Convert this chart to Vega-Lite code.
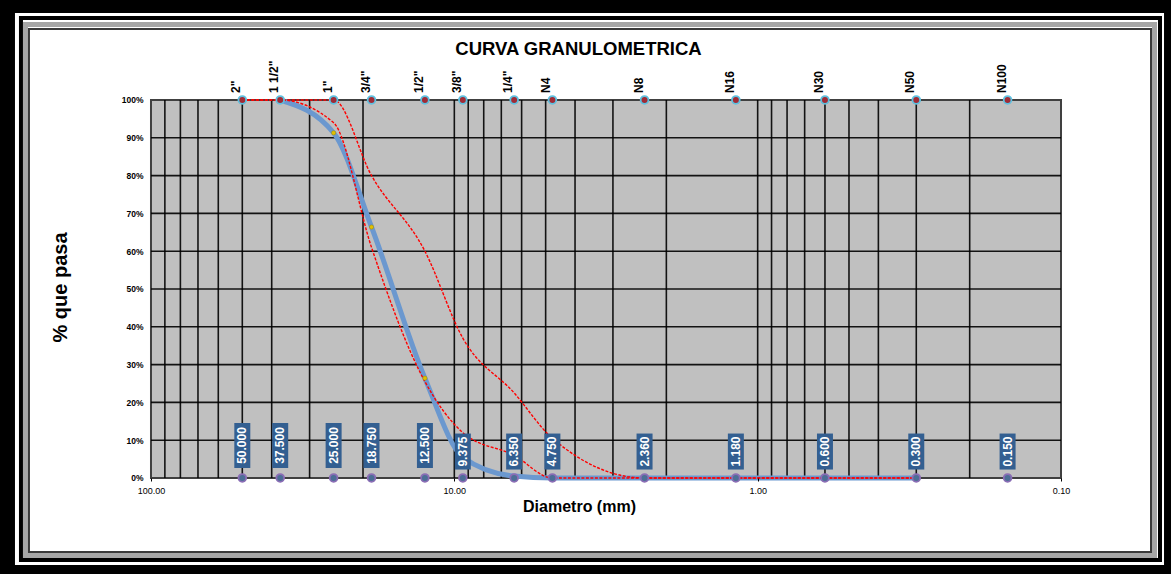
{
  "$schema": "https://vega.github.io/schema/vega-lite/v6.json",
  "width": 1171,
  "height": 574,
  "autosize": {"type": "none"},
  "padding": 0,
  "background": "#000000",
  "config": {"view": {"stroke": null, "fill": null}, "font": "Liberation Sans"},
  "title": {"text": "CURVA GRANULOMETRICA", "frame": "group", "anchor": "middle", "orient": "top", "offset": -73, "dx": -7, "fontSize": 18.5, "fontWeight": "bold", "color": "#000000", "font": "Liberation Sans", "baseline": "alphabetic"},
  "datasets": {
    "tamices": [
      {"t": "2\"", "d": 50, "e": "50.000"},
      {"t": "1 1/2\"", "d": 37.5, "e": "37.500"},
      {"t": "1\"", "d": 25, "e": "25.000"},
      {"t": "3/4\"", "d": 18.75, "e": "18.750"},
      {"t": "1/2\"", "d": 12.5, "e": "12.500"},
      {"t": "3/8\"", "d": 9.375, "e": "9.375"},
      {"t": "1/4\"", "d": 6.35, "e": "6.350"},
      {"t": "N4", "d": 4.75, "e": "4.750"},
      {"t": "N8", "d": 2.36, "e": "2.360"},
      {"t": "N16", "d": 1.18, "e": "1.180"},
      {"t": "N30", "d": 0.6, "e": "0.600"},
      {"t": "N50", "d": 0.3, "e": "0.300"},
      {"t": "N100", "d": 0.15, "e": "0.150"}
    ],
    "curvas": [
      {"serie": "Muestra", "d": 37.5, "p": 100},
      {"serie": "Muestra", "d": 25, "p": 91.3},
      {"serie": "Muestra", "d": 18.75, "p": 66.4},
      {"serie": "Muestra", "d": 12.5, "p": 26.4},
      {"serie": "Muestra", "d": 9.375, "p": 5.5},
      {"serie": "Muestra", "d": 6.35, "p": 0.5},
      {"serie": "Muestra", "d": 4.75, "p": 0},
      {"serie": "Muestra", "d": 2.36, "p": 0},
      {"serie": "Muestra", "d": 1.18, "p": 0},
      {"serie": "Muestra", "d": 0.6, "p": 0},
      {"serie": "Muestra", "d": 0.3, "p": 0},
      {"serie": "Inferior", "d": 50, "p": 100},
      {"serie": "Inferior", "d": 37.5, "p": 100},
      {"serie": "Inferior", "d": 25, "p": 94},
      {"serie": "Inferior", "d": 18.75, "p": 61},
      {"serie": "Inferior", "d": 12.5, "p": 25.5},
      {"serie": "Inferior", "d": 9.375, "p": 12},
      {"serie": "Inferior", "d": 6.35, "p": 6},
      {"serie": "Inferior", "d": 4.75, "p": 0},
      {"serie": "Inferior", "d": 2.36, "p": 0},
      {"serie": "Inferior", "d": 1.18, "p": 0},
      {"serie": "Inferior", "d": 0.6, "p": 0},
      {"serie": "Inferior", "d": 0.3, "p": 0},
      {"serie": "Superior", "d": 50, "p": 100},
      {"serie": "Superior", "d": 37.5, "p": 100},
      {"serie": "Superior", "d": 25, "p": 100},
      {"serie": "Superior", "d": 18.75, "p": 80},
      {"serie": "Superior", "d": 12.5, "p": 60},
      {"serie": "Superior", "d": 9.375, "p": 37},
      {"serie": "Superior", "d": 6.35, "p": 22.5},
      {"serie": "Superior", "d": 4.75, "p": 10.5},
      {"serie": "Superior", "d": 2.36, "p": 0},
      {"serie": "Superior", "d": 1.18, "p": 0},
      {"serie": "Superior", "d": 0.6, "p": 0},
      {"serie": "Superior", "d": 0.3, "p": 0}
    ],
    "vgrid": [
      {"d": 90}, {"d": 80}, {"d": 70}, {"d": 60}, {"d": 50}, {"d": 40}, {"d": 30}, {"d": 20}, {"d": 10},
      {"d": 9}, {"d": 8}, {"d": 7}, {"d": 6}, {"d": 5}, {"d": 4}, {"d": 3}, {"d": 2}, {"d": 1},
      {"d": 0.9}, {"d": 0.8}, {"d": 0.7}, {"d": 0.6}, {"d": 0.5}, {"d": 0.4}, {"d": 0.3}, {"d": 0.2}
    ],
    "hgrid": [
      {"p": 10}, {"p": 20}, {"p": 30}, {"p": 40}, {"p": 50}, {"p": 60}, {"p": 70}, {"p": 80}, {"p": 90}
    ],
    "uno": [{"k": 1}]
  },
  "layer": [
    {
      "data": {"name": "uno"},
      "mark": {"type": "rect", "fill": "#ffffff"},
      "encoding": {
        "x": {"datum": 280.8, "type": "quantitative", "scale": {"type": "log", "domain": [0.04339, 314.6], "reverse": true, "nice": false},
          "axis": {
            "title": "Diametro (mm)", "values": [100, 10, 1, 0.1], "format": ".2f", "offset": -96, "zindex": 1,
            "domain": false, "grid": false, "ticks": true, "tickSize": 3, "tickColor": "#000000",
            "labelFontSize": 9, "labelColor": "#000000", "labelPadding": 5, "labelFlush": false, "labelOverlap": false,
            "titleFontSize": 16, "titleFontWeight": "bold", "titleColor": "#000000", "titlePadding": 3, "titleX": 579
          }},
        "x2": {"datum": 0.04575},
        "y": {"datum": 123.02, "type": "quantitative", "scale": {"domain": [-25.397, 126.455], "nice": false, "zero": false},
          "axis": {
            "title": "% que pasa", "values": [0, 10, 20, 30, 40, 50, 60, 70, 80, 90, 100], "zindex": 1,
            "labelExpr": "datum.value + '%'", "offset": -151, "domain": false, "grid": false, "ticks": false,
            "labelFontSize": 8.5, "labelFontWeight": "bold", "labelColor": "#000000", "labelPadding": 8, "labelOverlap": false,
            "titleFontSize": 20, "titleFontWeight": "bold", "titleColor": "#000000", "titlePadding": 51
          }},
        "y2": {"datum": -23.02}
      }
    },
    {
      "data": {"name": "uno"},
      "mark": {"type": "rect", "filled": false, "stroke": "#000000", "strokeWidth": 4},
      "encoding": {
        "x": {"datum": 268.3, "type": "quantitative"}, "x2": {"datum": 0.04717},
        "y": {"datum": 121.69, "type": "quantitative"}, "y2": {"datum": -21.69}
      }
    },
    {
      "data": {"name": "uno"},
      "mark": {"type": "rect", "filled": false, "stroke": "#a6a6a6", "strokeWidth": 5},
      "encoding": {
        "x": {"datum": 259.3, "type": "quantitative"}, "x2": {"datum": 0.04918},
        "y": {"datum": 119.97, "type": "quantitative"}, "y2": {"datum": -20.5}
      }
    },
    {
      "data": {"name": "uno"},
      "mark": {"type": "rect", "filled": false, "stroke": "#3a3a3a", "strokeWidth": 2},
      "encoding": {
        "x": {"datum": 252.5, "type": "quantitative"}, "x2": {"datum": 0.0505},
        "y": {"datum": 118.78, "type": "quantitative"}, "y2": {"datum": -19.58}
      }
    },
    {
      "data": {"name": "uno"},
      "mark": {"type": "rect", "fill": "#c0c0c0", "stroke": "#404040", "strokeWidth": 2},
      "encoding": {
        "x": {"datum": 100, "type": "quantitative"}, "x2": {"datum": 0.1},
        "y": {"datum": 0, "type": "quantitative"}, "y2": {"datum": 100}
      }
    },
    {
      "data": {"name": "vgrid"},
      "mark": {"type": "rule", "color": "#000000", "strokeWidth": 1.6, "opacity": 0.9},
      "encoding": {
        "x": {"field": "d", "type": "quantitative"},
        "y": {"datum": 0, "type": "quantitative"}, "y2": {"datum": 100}
      }
    },
    {
      "data": {"name": "hgrid"},
      "mark": {"type": "rule", "color": "#000000", "strokeWidth": 1.6, "opacity": 0.9},
      "encoding": {
        "x": {"datum": 100, "type": "quantitative"}, "x2": {"datum": 0.1},
        "y": {"field": "p", "type": "quantitative"}
      }
    },
    {
      "data": {"name": "curvas"},
      "transform": [{"filter": "datum.serie == 'Muestra'"}],
      "mark": {"type": "line", "interpolate": "monotone", "stroke": "#6b98cf", "strokeWidth": 5},
      "encoding": {"x": {"field": "d", "type": "quantitative"}, "y": {"field": "p", "type": "quantitative"}, "order": {"field": "d", "sort": "descending"}}
    },
    {
      "data": {"name": "curvas"},
      "transform": [{"filter": "datum.serie == 'Inferior'"}],
      "mark": {"type": "line", "interpolate": "monotone", "stroke": "#ff0000", "strokeWidth": 1.4, "strokeDash": [3, 1.5]},
      "encoding": {"x": {"field": "d", "type": "quantitative"}, "y": {"field": "p", "type": "quantitative"}, "order": {"field": "d", "sort": "descending"}}
    },
    {
      "data": {"name": "curvas"},
      "transform": [{"filter": "datum.serie == 'Superior'"}],
      "mark": {"type": "line", "interpolate": "monotone", "stroke": "#ff0000", "strokeWidth": 1.4, "strokeDash": [3, 1.5]},
      "encoding": {"x": {"field": "d", "type": "quantitative"}, "y": {"field": "p", "type": "quantitative"}, "order": {"field": "d", "sort": "descending"}}
    },
    {
      "data": {"name": "curvas"},
      "transform": [{"filter": "datum.serie == 'Muestra' && datum.p > 10 && datum.p < 99"}],
      "mark": {"type": "point", "filled": true, "fill": "#e0c000", "stroke": "#a08800", "strokeWidth": 0.5, "size": 18, "opacity": 1},
      "encoding": {"x": {"field": "d", "type": "quantitative"}, "y": {"field": "p", "type": "quantitative"}}
    },
    {
      "data": {"name": "tamices"},
      "transform": [{"filter": "datum.d >= 10"}],
      "mark": {"type": "tick", "orient": "vertical", "color": "#335f91", "size": 45, "thickness": 16, "opacity": 1},
      "encoding": {"x": {"field": "d", "type": "quantitative"}, "y": {"datum": 8.6, "type": "quantitative"}}
    },
    {
      "data": {"name": "tamices"},
      "transform": [{"filter": "datum.d < 10"}],
      "mark": {"type": "tick", "orient": "vertical", "color": "#335f91", "size": 36, "thickness": 16, "opacity": 1},
      "encoding": {"x": {"field": "d", "type": "quantitative"}, "y": {"datum": 7.0, "type": "quantitative"}}
    },
    {
      "data": {"name": "tamices"},
      "transform": [{"filter": "datum.d >= 10"}],
      "mark": {"type": "text", "angle": 270, "align": "center", "baseline": "middle", "color": "#ffffff", "fontSize": 12, "fontWeight": "bold", "font": "Liberation Sans"},
      "encoding": {"x": {"field": "d", "type": "quantitative"}, "y": {"datum": 8.6, "type": "quantitative"}, "text": {"field": "e"}}
    },
    {
      "data": {"name": "tamices"},
      "transform": [{"filter": "datum.d < 10"}],
      "mark": {"type": "text", "angle": 270, "align": "center", "baseline": "middle", "color": "#ffffff", "fontSize": 12, "fontWeight": "bold", "font": "Liberation Sans"},
      "encoding": {"x": {"field": "d", "type": "quantitative"}, "y": {"datum": 7.0, "type": "quantitative"}, "text": {"field": "e"}}
    },
    {
      "data": {"name": "tamices"},
      "mark": {"type": "text", "angle": 270, "align": "left", "baseline": "bottom", "dx": 7, "dy": 1, "color": "#000000", "fontSize": 12, "fontWeight": "bold", "font": "Liberation Sans"},
      "encoding": {"x": {"field": "d", "type": "quantitative"}, "y": {"datum": 100, "type": "quantitative"}, "text": {"field": "t"}}
    },
    {
      "data": {"name": "tamices"},
      "mark": {"type": "point", "filled": true, "fill": "#a02b36", "stroke": "#5fc1e0", "strokeWidth": 1.8, "size": 60, "opacity": 1},
      "encoding": {"x": {"field": "d", "type": "quantitative"}, "y": {"datum": 100, "type": "quantitative"}}
    },
    {
      "data": {"name": "tamices"},
      "mark": {"type": "point", "filled": true, "fill": "#4c6e96", "stroke": "#8a6db5", "strokeWidth": 1.8, "size": 60, "opacity": 1},
      "encoding": {"x": {"field": "d", "type": "quantitative"}, "y": {"datum": 0, "type": "quantitative"}}
    }
  ]
}
